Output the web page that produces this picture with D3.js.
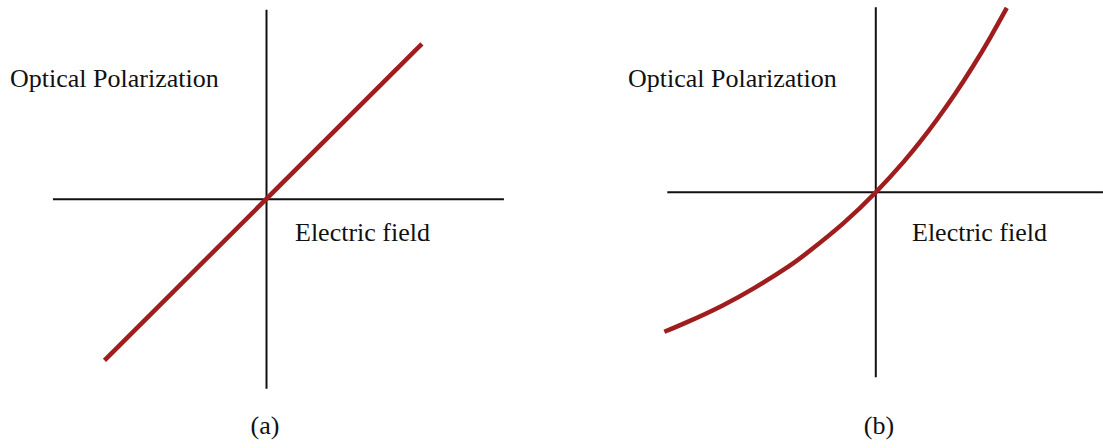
<!DOCTYPE html>
<html>
<head>
<meta charset="utf-8">
<script src="https://cdn.jsdelivr.net/npm/d3@7"></script>
<style>
  html, body { margin: 0; padding: 0; background: #ffffff; }
  svg { display: block; }
  text { font-family: "Liberation Serif", "Times New Roman", serif; font-size: 26px; fill: #111111; }
</style>
</head>
<body>
<svg id="chart" width="1103" height="448"></svg>
<script>
// Axis extents (field E, polarization P) in arbitrary units
const fieldExtentA = [-1.127, 1.253];
const polExtentA = [-1.0, 1.0];
const fieldExtentB = [-1.127, 1.228];
const polExtentB = [-1.0, 1.0];

// (a) linear response
const fieldA = [-0.855, 0.82];
const polA = [-0.85, 0.82];

// (b) nonlinear response
const fieldB = [-1.143, -1.014, -0.833, -0.653, -0.473, -0.350, -0.176, 0, 0.149, 0.239, 0.329, 0.428, 0.527, 0.617, 0.708];
const polB = [-0.754, -0.699, -0.614, -0.515, -0.402, -0.311, -0.168, 0, 0.163, 0.272, 0.391, 0.531, 0.684, 0.834, 0.997];

// Text
const yLabel = "Optical Polarization";
const xLabel = "Electric field";
const panelTags = ["(a)", "(b)"];

const svg = d3.select("#chart");

function drawPanel(opts) {
  const { originX, originY, unit, fieldExtent, polExtent, fieldVals, polVals, curve,
          yLabelX, xLabelX, tag, tagX } = opts;

  const x = d3.scaleLinear()
    .domain(fieldExtent)
    .range([originX + fieldExtent[0] * unit, originX + fieldExtent[1] * unit]);
  const y = d3.scaleLinear()
    .domain(polExtent)
    .range([originY - polExtent[0] * unit, originY - polExtent[1] * unit]);

  const g = svg.append("g");

  // horizontal (field) axis
  g.append("line")
    .attr("x1", x(fieldExtent[0])).attr("x2", x(fieldExtent[1]))
    .attr("y1", y(0)).attr("y2", y(0))
    .attr("stroke", "#111").attr("stroke-width", 2);

  // vertical (polarization) axis
  g.append("line")
    .attr("x1", x(0)).attr("x2", x(0))
    .attr("y1", y(polExtent[0])).attr("y2", y(polExtent[1]))
    .attr("stroke", "#111").attr("stroke-width", 2);

  // response curve
  const pts = fieldVals.map((e, i) => [e, polVals[i]]);
  g.append("path")
    .datum(pts)
    .attr("fill", "none")
    .attr("stroke", "#9f1d1d")
    .attr("stroke-width", 4.5)
    .attr("d", d3.line().x(d => x(d[0])).y(d => y(d[1])).curve(curve));

  g.append("text").attr("x", yLabelX).attr("y", 87).text(yLabel);
  g.append("text").attr("x", xLabelX).attr("y", 241).text(xLabel);
  g.append("text").attr("x", tagX).attr("y", 434).attr("text-anchor", "middle").text(tag);
}

drawPanel({
  originX: 266.5, originY: 199.3, unit: 189.5,
  fieldExtent: fieldExtentA, polExtent: polExtentA,
  fieldVals: fieldA, polVals: polA, curve: d3.curveLinear,
  yLabelX: 10, xLabelX: 295, tag: panelTags[0], tagX: 265
});

drawPanel({
  originX: 875.8, originY: 192.3, unit: 185,
  fieldExtent: fieldExtentB, polExtent: polExtentB,
  fieldVals: fieldB, polVals: polB, curve: d3.curveNatural,
  yLabelX: 628, xLabelX: 912, tag: panelTags[1], tagX: 879
});
</script>
</body>
</html>
